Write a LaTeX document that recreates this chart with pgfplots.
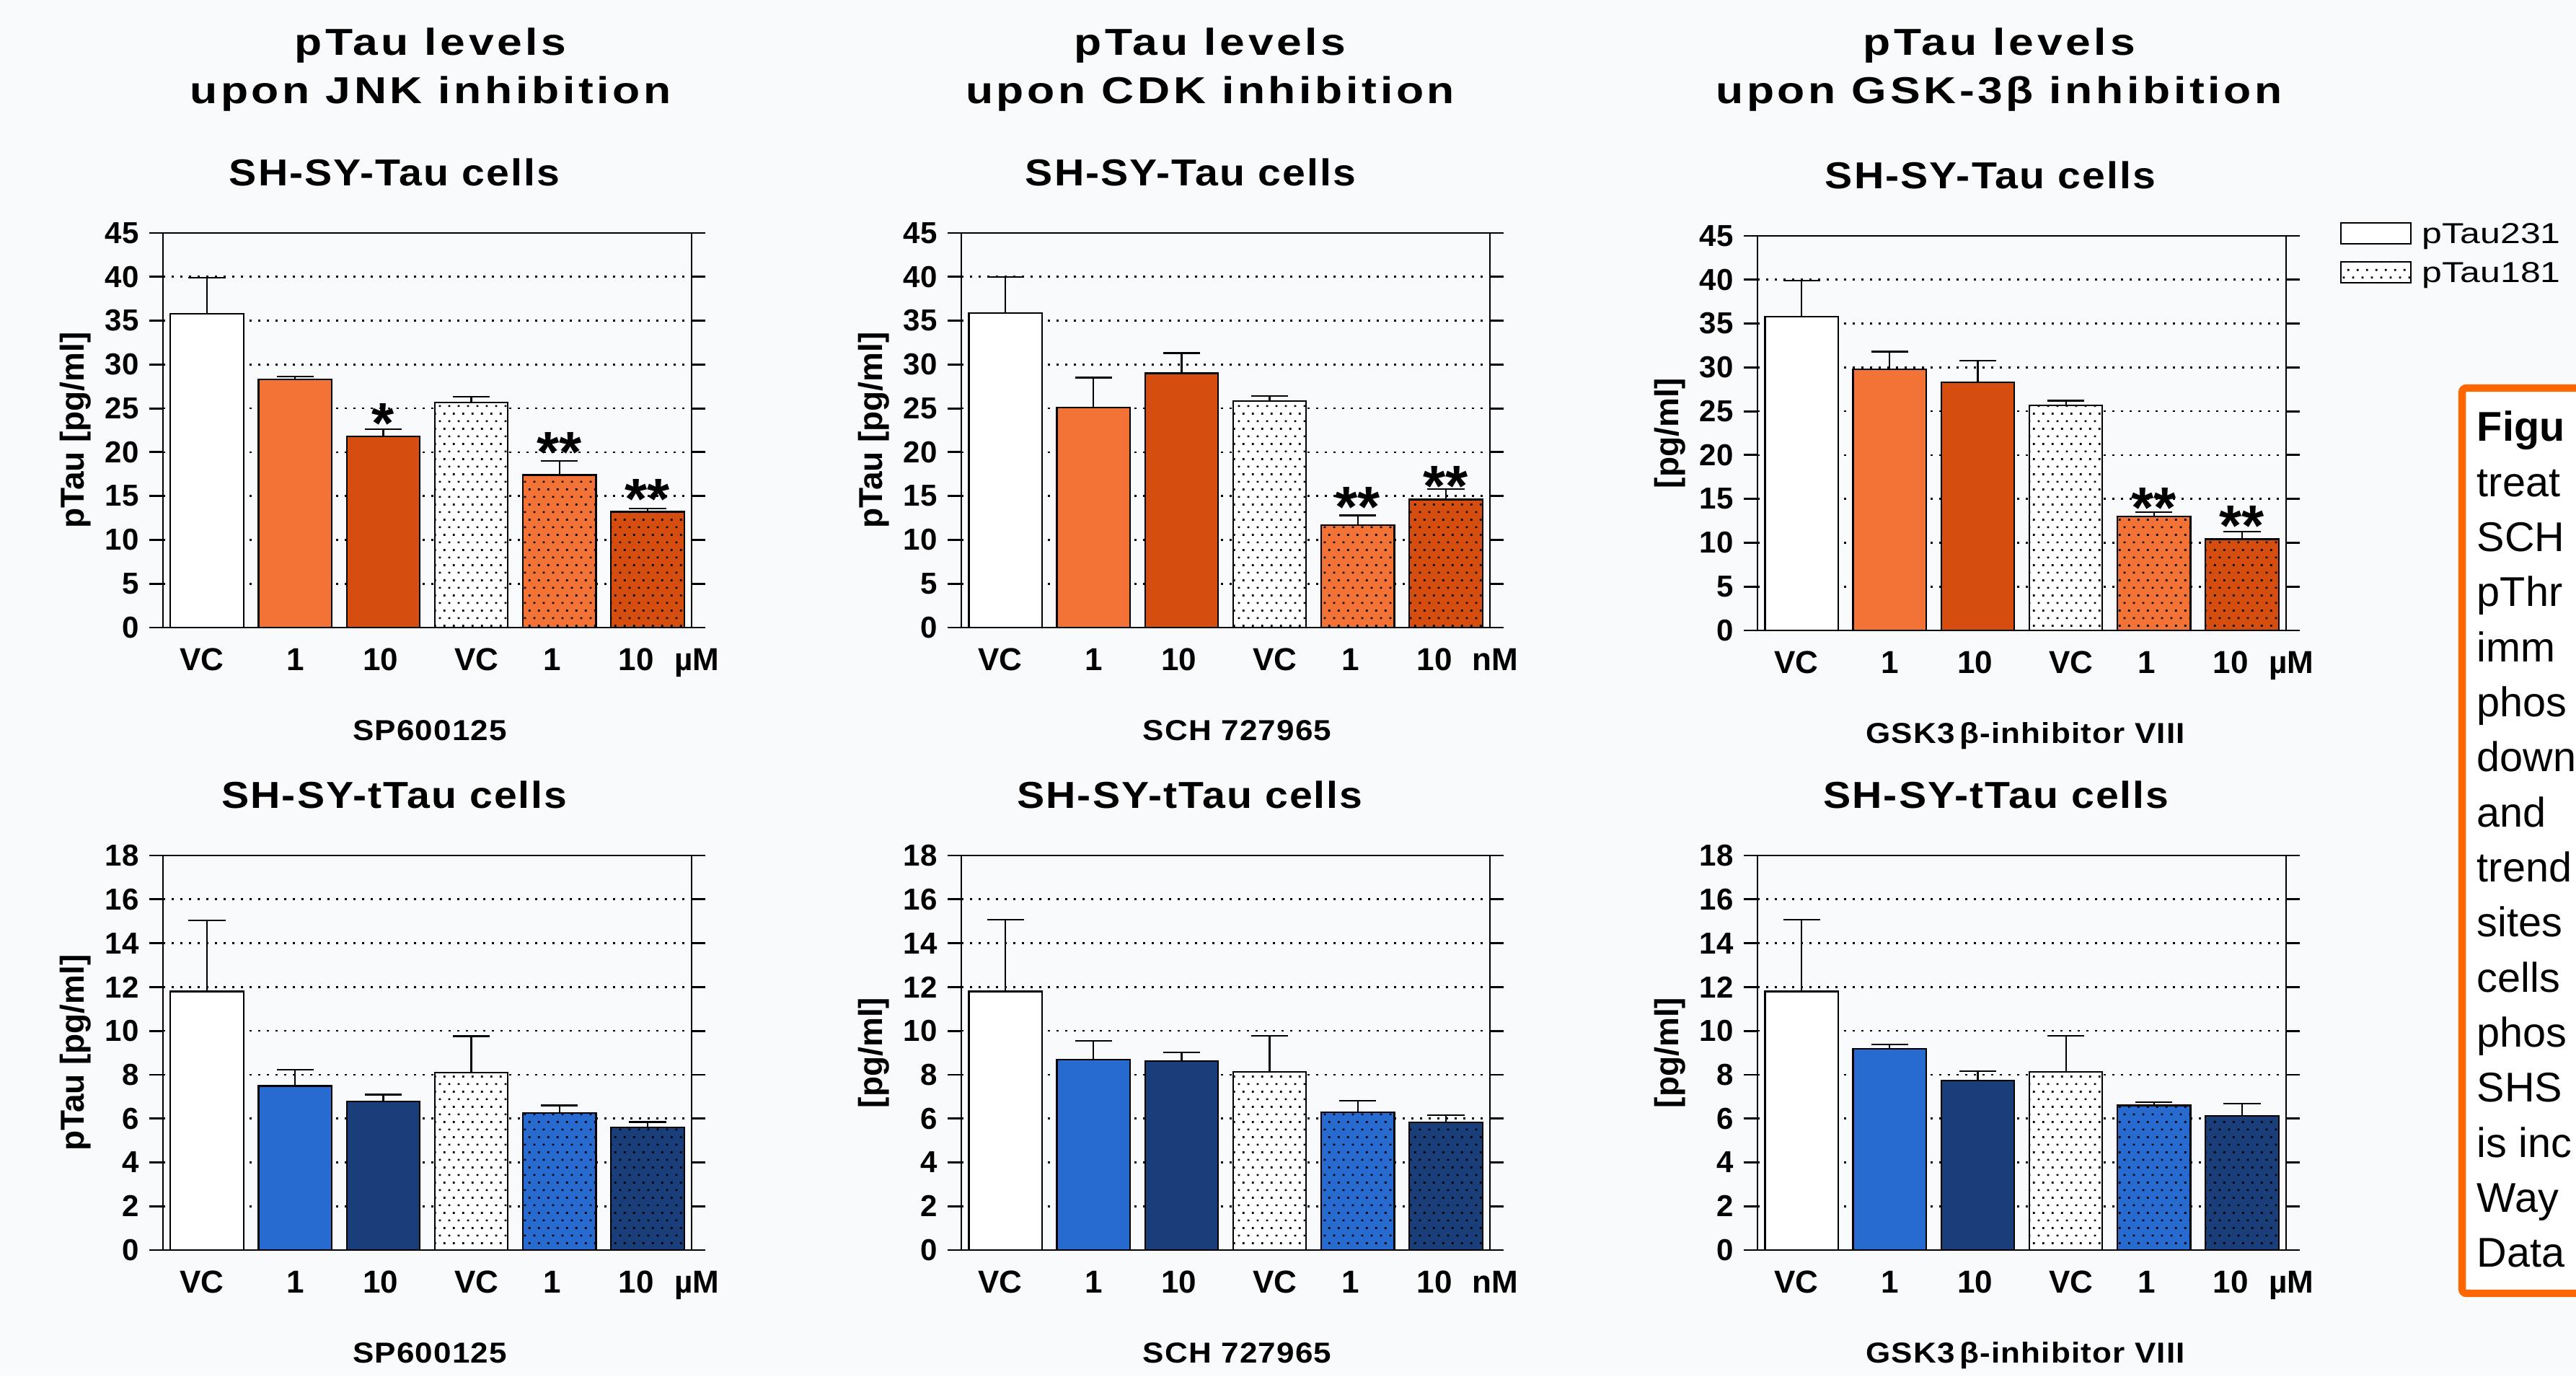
\documentclass[border=0pt]{standalone}
\usepackage{fontspec}
\setmainfont{Liberation Sans}
\newfontfamily\ttlfont[FakeStretch=1.2,LetterSpace=9]{Liberation Sans}
\newfontfamily\subttlfont[FakeStretch=1.1,LetterSpace=4]{Liberation Sans}
\newfontfamily\drugfont[FakeStretch=1.1,LetterSpace=3]{Liberation Sans}
\newfontfamily\legfont[FakeStretch=1.25]{Liberation Sans}
\usepackage{pgfplots}
\pgfplotsset{compat=1.18}
\usetikzlibrary{patterns.meta}
\definecolor{orL}{RGB}{243,115,54}
\definecolor{orD}{RGB}{213,78,15}
\definecolor{blL}{RGB}{40,107,208}
\definecolor{blD}{RGB}{26,62,122}
\definecolor{boxor}{RGB}{255,102,0}
\definecolor{bg}{RGB}{249,250,251}
\tikzdeclarepattern{
  name=stagdots,
  type=uncolored,
  bottom left={(0pt,0pt)},
  top right={(3.3pt,5.35pt)},
  tile size={(3.3pt,5.35pt)},
  code={
    \pgfpathrectangle{\pgfpoint{0.45pt}{0.45pt}}{\pgfpoint{0.7pt}{0.7pt}}
    \pgfpathrectangle{\pgfpoint{2.1pt}{3.125pt}}{\pgfpoint{0.7pt}{0.7pt}}
    \pgfusepath{fill}
  }
}
\pgfplotsset{
  panel/.style={
    scale only axis, width=183.25pt, height=136.75pt,
    anchor=south west,
    xmin=-0.5, xmax=5.5, ymin=0,
    axis line style={line width=0.7pt, black},
    tick align=outside,
    ytick pos=both, yticklabel pos=left,
    xtick pos=bottom,
    major tick length=4.8pt,
    every tick/.style={line width=0.7pt, black},
    xtick={-0.06,1,1.97,3.06,3.92,4.87},
    xticklabels={VC,1,10,VC,1,10},
    xtick style={draw=none},
    xticklabel style={anchor=base, yshift=-10pt, font=\bfseries\fontsize{11}{11}\selectfont},
    yticklabel style={font=\bfseries\fontsize{10.5}{10.5}\selectfont},
    /pgf/number format/assume math mode=true,
    ymajorgrids,
    grid style={black, line width=0.65pt, dash pattern=on 0.7pt off 2.3pt},
    ybar, bar width=0.83, bar shift=0pt,
    clip=false,
    error bars/y dir=plus, error bars/y explicit,
    error bars/error bar style={line width=0.55pt, black, solid},
    error bars/error mark options={rotate=90, mark size=6.4pt, line width=0.55pt, black, solid},
  },
  vc/.style={fill=white, draw=black, line width=0.55pt},
  cA/.style={fill=#1, draw=black, line width=0.55pt},
  dA/.style={fill=#1, draw=black, line width=0.55pt, postaction={pattern=stagdots, pattern color=black}},
}
\newcommand\pbar[4]{\addplot[#1] coordinates {(#2,#3) +- (0,#4)};}
\newcommand\sigtwo[2]{\node[font=\bfseries\fontsize{20}{20}\selectfont, anchor=center, yshift=-3.9pt] at (axis cs:#1,#2) {**};}
\newcommand\sigone[2]{\node[font=\bfseries\fontsize{20}{20}\selectfont, anchor=center, yshift=-3.9pt] at (axis cs:#1,#2) {*};}
\newcommand\unitlab[1]{\node[anchor=base, yshift=-14.8pt, font=\bfseries\fontsize{11}{11}\selectfont] at (axis cs:5.56,0) {#1};}
\newcommand\druglab[2]{\node[anchor=base, yshift=-39pt, font=\drugfont\bfseries\fontsize{10}{10}\selectfont] at (axis description cs:#1,0) {#2};}
\newcommand\ylab[1]{\node[rotate=90, anchor=center, font=\bfseries\fontsize{11.5}{11.5}\selectfont] at (axis description cs:-0.165,0.5) {#1};}
\newcommand\ttl[3]{\node[anchor=base, font=\ttlfont\bfseries\fontsize{13}{13}\selectfont] at (#1pt,457.75pt) {#2};
  \node[anchor=base, font=\ttlfont\bfseries\fontsize{13}{13}\selectfont] at (#1pt,441.1pt) {#3};}
\newcommand\subttl[3]{\node[anchor=base, font=\subttlfont\bfseries\fontsize{13}{13}\selectfont] at (#1pt,#2pt) {#3};}
\begin{document}
\begin{tikzpicture}
\useasboundingbox (0,0) rectangle (893pt,477pt);
\begin{scope}
\clip (0,0) rectangle (893pt,477pt);
\fill[bg] (0,0) rectangle (893pt,477pt);
% main titles
\ttl{149.25}{pTau levels}{upon JNK inhibition}
\ttl{419.5}{pTau levels}{upon CDK inhibition}
\ttl{693}{pTau levels}{upon GSK-3β inhibition}
% subtitles
\subttl{136.75}{412.5}{SH-SY-Tau cells}
\subttl{412.75}{412.5}{SH-SY-Tau cells}
\subttl{690}{411.5}{SH-SY-Tau cells}
\subttl{136.75}{197}{SH-SY-tTau cells}
\subttl{412.5}{197}{SH-SY-tTau cells}
\subttl{692}{197}{SH-SY-tTau cells}

% ---------- top left
\begin{axis}[panel, at={(56.5pt,259.5pt)}, ymax=45, ytick={0,5,...,45}]
\pbar{vc}{0}{35.8}{4.1}
\pbar{cA=orL}{1}{28.3}{0.3}
\pbar{cA=orD}{2}{21.8}{0.8}
\pbar{dA=white}{3}{25.7}{0.6}
\pbar{dA=orL}{4}{17.4}{1.6}
\pbar{dA=orD}{5}{13.2}{0.35}
\sigone{2}{24.6}
\sigtwo{4}{21.3}
\sigtwo{5}{15.9}
\unitlab{µM}
\druglab{0.505}{SP600125}
\ylab{pTau [pg/ml]}
\end{axis}
% ---------- top middle
\begin{axis}[panel, at={(333.25pt,259.5pt)}, ymax=45, ytick={0,5,...,45}]
\pbar{vc}{0}{35.9}{4.1}
\pbar{cA=orL}{1}{25.1}{3.4}
\pbar{cA=orD}{2}{29.0}{2.3}
\pbar{dA=white}{3}{25.8}{0.6}
\pbar{dA=orL}{4}{11.7}{1.1}
\pbar{dA=orD}{5}{14.6}{1.2}
\sigtwo{4}{15.05}
\sigtwo{5}{17.4}
\unitlab{nM}
\druglab{0.522}{SCH 727965}
\ylab{pTau [pg/ml]}
\end{axis}
% ---------- top right
\begin{axis}[panel, at={(609.25pt,258.5pt)}, ymax=45, ytick={0,5,...,45}]
\pbar{vc}{0}{35.8}{4.1}
\pbar{cA=orL}{1}{29.8}{2.0}
\pbar{cA=orD}{2}{28.3}{2.5}
\pbar{dA=white}{3}{25.7}{0.5}
\pbar{dA=orL}{4}{13.0}{0.5}
\pbar{dA=orD}{5}{10.4}{0.9}
\sigtwo{4}{15.3}
\sigtwo{5}{13.2}
\unitlab{µM}
\druglab{0.507}{GSK3\,β-inhibitor VIII}
\ylab{[pg/ml]}
\end{axis}
% ---------- bottom left
\begin{axis}[panel, at={(56.5pt,43.75pt)}, ymax=18, ytick={0,2,...,18}]
\pbar{vc}{0}{11.8}{3.25}
\pbar{cA=blL}{1}{7.49}{0.73}
\pbar{cA=blD}{2}{6.77}{0.32}
\pbar{dA=white}{3}{8.10}{1.66}
\pbar{dA=blL}{4}{6.25}{0.35}
\pbar{dA=blD}{5}{5.59}{0.25}
\unitlab{µM}
\druglab{0.505}{SP600125}
\ylab{pTau [pg/ml]}
\end{axis}
% ---------- bottom middle
\begin{axis}[panel, at={(333.25pt,43.75pt)}, ymax=18, ytick={0,2,...,18}]
\pbar{vc}{0}{11.8}{3.27}
\pbar{cA=blL}{1}{8.70}{0.84}
\pbar{cA=blD}{2}{8.62}{0.39}
\pbar{dA=white}{3}{8.13}{1.64}
\pbar{dA=blL}{4}{6.29}{0.53}
\pbar{dA=blD}{5}{5.82}{0.34}
\unitlab{nM}
\druglab{0.522}{SCH 727965}
\ylab{[pg/ml]}
\end{axis}
% ---------- bottom right
\begin{axis}[panel, at={(609.25pt,43.75pt)}, ymax=18, ytick={0,2,...,18}]
\pbar{vc}{0}{11.8}{3.27}
\pbar{cA=blL}{1}{9.18}{0.19}
\pbar{cA=blD}{2}{7.74}{0.42}
\pbar{dA=white}{3}{8.13}{1.64}
\pbar{dA=blL}{4}{6.60}{0.14}
\pbar{dA=blD}{5}{6.11}{0.56}
\unitlab{µM}
\druglab{0.507}{GSK3\,β-inhibitor VIII}
\ylab{[pg/ml]}
\end{axis}

% legend
\draw[black, line width=0.5pt, fill=white] (811.5pt,392.5pt) rectangle (835.75pt,399.75pt);
\draw[black, line width=0.5pt, fill=white, postaction={pattern=stagdots, pattern color=black}] (811.5pt,379pt) rectangle (835.75pt,386.25pt);
\node[anchor=base west, inner sep=0pt, font=\legfont\fontsize{10}{10}\selectfont] at (839.5pt,392.5pt) {pTau231};
\node[anchor=base west, inner sep=0pt, font=\legfont\fontsize{10}{10}\selectfont] at (839.5pt,379pt) {pTau181};

% caption box (cut off by the right edge of the figure)
\draw[boxor, line width=2.6pt, fill=white!97!bg, rounded corners=1.5pt] (853.5pt,342.5pt) rectangle (905pt,28.75pt);
\begin{scope}[font=\fontsize{14.4}{14.4}\selectfont]
\node[anchor=base west, inner sep=0pt] at (858.5pt,324pt) {\bfseries Figu};
\node[anchor=base west, inner sep=0pt] at (858.5pt,304.92pt) {treat};
\node[anchor=base west, inner sep=0pt] at (858.5pt,285.84pt) {SCH};
\node[anchor=base west, inner sep=0pt] at (858.5pt,266.76pt) {pThr};
\node[anchor=base west, inner sep=0pt] at (858.5pt,247.68pt) {imm};
\node[anchor=base west, inner sep=0pt] at (858.5pt,228.6pt) {phos};
\node[anchor=base west, inner sep=0pt] at (858.5pt,209.52pt) {down};
\node[anchor=base west, inner sep=0pt] at (858.5pt,190.44pt) {and};
\node[anchor=base west, inner sep=0pt] at (858.5pt,171.36pt) {trend};
\node[anchor=base west, inner sep=0pt] at (858.5pt,152.28pt) {sites};
\node[anchor=base west, inner sep=0pt] at (858.5pt,133.2pt) {cells};
\node[anchor=base west, inner sep=0pt] at (858.5pt,114.12pt) {phos};
\node[anchor=base west, inner sep=0pt] at (858.5pt,95.04pt) {SHS};
\node[anchor=base west, inner sep=0pt] at (858.5pt,75.96pt) {is inc};
\node[anchor=base west, inner sep=0pt] at (858.5pt,56.88pt) {Way};
\node[anchor=base west, inner sep=0pt] at (858.5pt,37.8pt) {Data};
\end{scope}
\end{scope}
\end{tikzpicture}
\end{document}
